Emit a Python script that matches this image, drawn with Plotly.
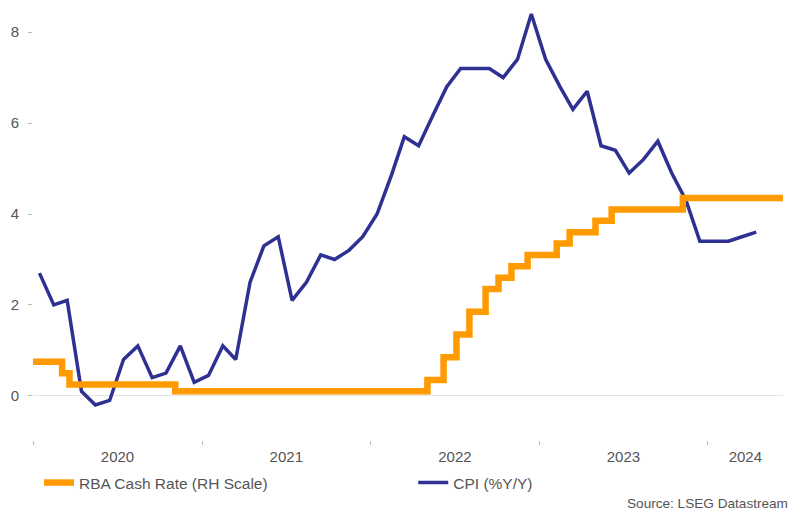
import pandas as pd
import plotly.graph_objects as go

# --- Data -----------------------------------------------------------------
cpi_start = "2020-01"
cpi_values = [2.7, 2.0, 2.1, 0.1, -0.2, -0.1, 0.8, 1.1, 0.4, 0.5, 1.1, 0.3,
              0.45, 1.1, 0.8, 2.5, 3.3, 3.5, 2.1, 2.5, 3.1, 3.0, 3.2, 3.5,
              4.0, 4.85, 5.7, 5.5, 6.15, 6.8, 7.2, 7.2, 7.2, 7.0, 7.4, 8.4,
              7.4, 6.8, 6.3, 6.7, 5.5, 5.4, 4.9, 5.2, 5.6, 4.9, 4.3, 3.4,
              3.4, 3.4, 3.5, 3.6]

rba_dates = ["2020-01-01", "2020-03-04", "2020-03-20", "2020-11-04",
             "2022-05-04", "2022-06-08", "2022-07-06", "2022-08-03",
             "2022-09-07", "2022-10-05", "2022-11-02", "2022-12-07",
             "2023-02-08", "2023-03-08", "2023-05-03", "2023-06-07",
             "2023-11-08", "2024-06-12"]
rba_rates = [0.75, 0.50, 0.25, 0.10,
             0.35, 0.85, 1.35, 1.85,
             2.35, 2.60, 2.85, 3.10,
             3.35, 3.60, 3.85, 4.10,
             4.35, 4.35]

year_labels = ["2020", "2021", "2022", "2023", "2024"]
y_ticks = [0, 2, 4, 6, 8]

x_start, x_end = "2020-01-01", "2024-06-12"

# --- Derived ----------------------------------------------------------------
cpi_dates = pd.date_range(cpi_start + "-01", periods=len(cpi_values), freq="MS") + pd.Timedelta(days=14)

xs = pd.Timestamp(x_start)
xe = pd.Timestamp(x_end)
year_starts = [pd.Timestamp(f"{y}-01-01") for y in year_labels]
label_pos = []
for y in year_labels:
    a = max(pd.Timestamp(f"{y}-01-01"), xs)
    b = min(pd.Timestamp(f"{int(y)+1}-01-01"), xe)
    label_pos.append(a + (b - a) / 2)

ORANGE = "#FF9A00"
NAVY = "#2E3192"
TXT = "#555555"
FONT = "Liberation Sans, Arial, sans-serif"

fig = go.Figure()
fig.add_trace(go.Scatter(
    x=pd.to_datetime(rba_dates), y=rba_rates, mode="lines",
    line=dict(color=ORANGE, width=6.5, shape="hv"),
    name="RBA Cash Rate (RH Scale)", yaxis="y2", legend="legend"))
fig.add_trace(go.Scatter(
    x=cpi_dates, y=cpi_values, mode="lines",
    line=dict(color=NAVY, width=3.5),
    name="CPI (%Y/Y)", yaxis="y", legend="legend2"))

yr = [-0.97, 8.53]
leg_common = dict(orientation="h", xanchor="left", yanchor="middle", y=-0.0995,
                  font=dict(size=15.5, color=TXT, family=FONT),
                  bgcolor="rgba(0,0,0,0)", borderwidth=0)
fig.update_layout(
    width=801, height=514,
    margin=dict(l=33, r=18, t=8, b=74, autoexpand=False),
    paper_bgcolor="white", plot_bgcolor="white",
    font=dict(family=FONT, size=15, color=TXT),
    showlegend=True,
    legend=dict(x=0.008, **leg_common),
    legend2=dict(x=0.507, **leg_common),
    xaxis=dict(
        range=[xs, xe], showgrid=False, zeroline=False, showline=False,
        automargin=False,
        tickmode="array", tickvals=label_pos, ticktext=year_labels,
        ticks="outside", ticklen=3, tickcolor="rgba(0,0,0,0)",
        tickfont=dict(size=15, color=TXT),
        minor=dict(tickmode="array", tickvals=year_starts, ticks="outside",
                   ticklen=4, tickcolor="#bbbbbb", tickwidth=1, showgrid=False),
    ),
    yaxis=dict(
        range=yr, showgrid=False, showline=False, automargin=False,
        zeroline=True, zerolinecolor="#e4e4e4", zerolinewidth=1,
        tickmode="array", tickvals=y_ticks,
        ticks="outside", ticklen=4, tickcolor="#bbbbbb",
        tickfont=dict(size=15, color=TXT), ticklabelstandoff=6,
    ),
    yaxis2=dict(
        range=yr, overlaying="y", side="right", showgrid=False, automargin=False,
        showticklabels=False, zeroline=False, showline=False, ticks="",
    ),
    annotations=[dict(text="Source: LSEG Datastream", xref="paper", yref="paper",
                      x=1.0093, xanchor="right", y=-0.146, yanchor="middle",
                      showarrow=False, font=dict(size=13.6, color=TXT))],
)

fig.write_html("out.html", config={"displayModeBar": False},
               post_script="document.body.style.margin='0px';document.body.style.overflow='hidden';")
